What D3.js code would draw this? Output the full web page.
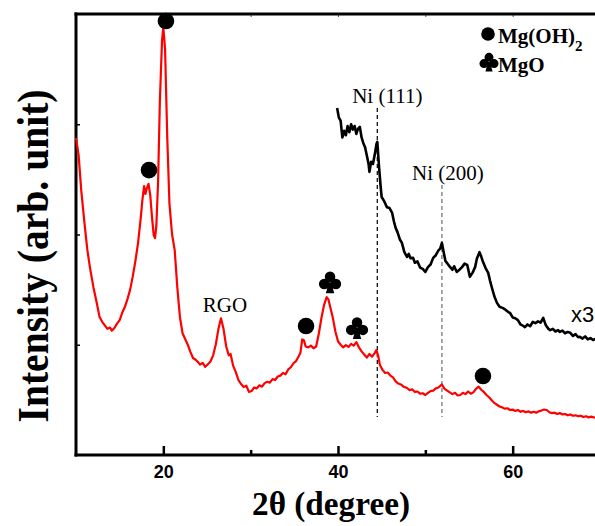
<!DOCTYPE html>
<html>
<head>
<meta charset="utf-8">
<script src="https://cdn.jsdelivr.net/npm/d3@7"></script>
<style>
  body { margin: 0; background: #fff; }
  svg { display: block; }
  .serif { font-family: "Liberation Serif", "Times New Roman", Times, serif; }
  .sans { font-family: "Liberation Sans", Arial, Helvetica, sans-serif; }
</style>
</head>
<body>
<div id="container"></div>
<script>
/**
 * CONSTANTS AND GLOBALS
 * */
const width = 595,
  height = 526,
  margin = { top: 14, bottom: 71, left: 76, right: -5 };

/**
 * DATA
 * */
// red pattern: [2theta, intensity]
const redPattern = [
  [10.0, 71.9], [10.3, 68], [10.6, 60], [11.0, 52], [11.3, 46.5], [11.6, 42.5],
  [12.0, 38], [12.3, 35.2], [12.7, 31.3], [13.0, 30.2], [13.3, 29.4], [13.6, 28.6],
  [13.9, 28.9], [14.1, 28.2], [14.4, 28.8], [14.7, 29.8], [15.0, 30.6], [15.3, 32.3],
  [15.6, 33.6], [15.9, 35.4], [16.2, 37.5], [16.5, 40.5], [16.8, 44], [17.1, 48],
  [17.4, 53.5], [17.6, 57.8], [17.8, 61], [17.95, 59.2], [18.1, 60.4], [18.3, 61.5],
  [18.5, 59], [18.7, 54], [18.9, 49.8], [19.05, 49.2], [19.2, 52], [19.4, 62],
  [19.6, 80], [19.85, 94], [20.0, 97], [20.2, 92], [20.45, 72], [20.7, 57],
  [21.0, 50], [21.3, 46.5], [21.6, 38], [21.9, 31.3], [22.2, 27.6], [22.5, 26.3],
  [22.8, 25], [23.1, 23.4], [23.4, 22], [23.7, 21.6], [24.0, 21], [24.2, 20.5],
  [24.5, 20.9], [24.8, 20], [25.1, 20.6], [25.4, 21.2], [25.7, 22.6], [26.0, 25],
  [26.3, 28.5], [26.6, 31], [26.9, 28.5], [27.2, 24.6], [27.5, 22.6], [27.7, 22.9],
  [28.0, 20.2], [28.3, 18.8], [28.6, 17], [28.9, 16.1], [29.2, 15.4], [29.5, 15.7],
  [29.8, 14.3], [30.1, 14.5], [30.4, 15.3], [30.7, 15.1], [31.0, 15.8], [31.3, 15.5],
  [31.6, 16.3], [31.9, 16.6], [32.2, 16.4], [32.5, 17.2], [32.8, 17.0], [33.1, 17.8],
  [33.4, 18.0], [33.7, 18.6], [34.0, 18.3], [34.3, 19.4], [34.6, 19.9], [34.9, 20.8],
  [35.2, 21.3], [35.5, 22.4], [35.7, 23.2], [35.9, 26.2], [36.1, 26.0], [36.3, 24.6],
  [36.6, 24.4], [36.9, 24.8], [37.2, 24.2], [37.5, 24.6], [37.8, 27.5], [38.1, 31],
  [38.4, 34], [38.7, 35.8], [38.9, 35.3], [39.1, 33.6], [39.4, 31.2], [39.7, 28],
  [40.0, 25.8], [40.3, 25.0], [40.6, 24.4], [40.9, 24.9], [41.2, 24.5], [41.5, 25.2],
  [41.8, 24.8], [42.1, 25.6], [42.4, 24.4], [42.7, 23.5], [43.0, 22.8], [43.3, 22.1],
  [43.6, 22.9], [43.9, 22.3], [44.2, 23.1], [44.4, 23.8], [44.6, 22.5], [44.8, 20.4],
  [45.1, 19.3], [45.4, 18.6], [45.7, 18.7], [46.0, 18.0], [46.3, 17.6], [46.6, 16.7],
  [46.9, 16.2], [47.2, 16.0], [47.5, 15.5], [47.9, 15.2], [48.2, 14.7], [48.5, 14.9],
  [48.8, 14.3], [49.1, 14.4], [49.4, 13.9], [49.7, 14.0], [50.0, 13.6], [50.3, 14.1],
  [50.6, 14.5], [50.9, 14.6], [51.2, 15.1], [51.5, 15.3], [51.9, 16.0], [52.2, 15.0],
  [52.5, 14.6], [52.8, 14.2], [53.1, 13.8], [53.4, 14.1], [53.7, 13.5], [54.0, 13.6],
  [54.3, 14.1], [54.6, 13.8], [54.9, 14.4], [55.2, 13.9], [55.5, 14.2], [55.8, 15.0],
  [56.1, 15.5], [56.4, 14.8], [56.7, 14.3], [57.0, 13.6], [57.3, 13.1], [57.6, 12.4],
  [57.9, 11.8], [58.2, 11.4], [58.5, 11.0], [58.8, 10.8], [59.1, 10.5], [59.4, 10.6],
  [59.7, 10.2], [60.0, 10.3], [60.3, 10.0], [60.6, 10.2], [60.9, 9.8], [61.2, 10.0],
  [61.5, 9.7], [61.8, 9.9], [62.1, 9.6], [62.4, 9.8], [62.7, 9.6], [63.0, 9.9],
  [63.3, 10.1], [63.6, 10.3], [63.9, 10.2], [64.2, 9.7], [64.5, 9.5], [64.8, 9.6],
  [65.1, 9.3], [65.4, 9.5], [65.7, 9.2], [66.0, 9.3], [66.3, 9.0], [66.6, 9.2],
  [66.9, 8.9], [67.2, 9.0], [67.5, 8.8], [67.8, 8.9], [68.1, 8.6], [68.4, 8.8],
  [68.7, 8.5], [69.0, 8.7], [69.3, 8.5], [69.6, 8.6], [70.0, 8.4]
];

// black pattern (x3 zoom of the high angle part)
const blackPattern = [
  [39.9, 78.7], [40.1, 76.5], [40.3, 75.8], [40.5, 72.0], [40.7, 73.5], [40.9, 72.5],
  [41.1, 74.6], [41.3, 73.2], [41.5, 75.0], [41.7, 73.8], [41.9, 74.6], [42.1, 72.8],
  [42.3, 74.0], [42.5, 74.4], [42.7, 72.0], [42.9, 70.7], [43.1, 69.8], [43.3, 67.9],
  [43.5, 66.0], [43.6, 64.2], [43.8, 66.5], [44.0, 66.0], [44.2, 68.0], [44.4, 70.5],
  [44.5, 71.0], [44.7, 65.3], [44.9, 60.5], [45.0, 58.5], [45.3, 57.5], [45.6, 56.2],
  [45.9, 56.0], [46.2, 54.9], [46.4, 53.0], [46.6, 51.5], [46.8, 50.6], [47.1, 48.8],
  [47.3, 48.2], [47.6, 46.0], [47.9, 44.9], [48.1, 45.6], [48.3, 44.6], [48.6, 44.7],
  [48.8, 43.6], [49.1, 43.9], [49.4, 42.5], [49.7, 42.2], [50.0, 41.5], [50.3, 42.6],
  [50.6, 43.2], [50.9, 44.7], [51.2, 45.3], [51.5, 46.4], [51.7, 46.8], [51.9, 48.1],
  [52.1, 46.0], [52.3, 44.0], [52.5, 43.5], [52.8, 42.7], [53.1, 42.0], [53.3, 42.8],
  [53.6, 41.5], [53.9, 42.0], [54.2, 42.6], [54.5, 43.4], [54.8, 43.1], [55.1, 40.4],
  [55.4, 41.3], [55.7, 42.6], [55.9, 44.5], [56.2, 46.0], [56.4, 45.0], [56.6, 43.8],
  [56.9, 42.4], [57.2, 41.3], [57.4, 39.6], [57.6, 38.1], [57.9, 36.0], [58.2, 34.5],
  [58.5, 33.6], [58.9, 33.3], [59.2, 32.9], [59.5, 32.4], [59.7, 32.2], [60.0, 31.2],
  [60.3, 31.0], [60.6, 30.6], [60.9, 29.6], [61.2, 29.3], [61.4, 29.0], [61.7, 29.6],
  [62.0, 29.2], [62.3, 30.2], [62.6, 29.9], [62.9, 30.3], [63.2, 30.0], [63.5, 31.1],
  [63.8, 29.4], [64.1, 28.6], [64.3, 28.3], [64.6, 28.6], [64.9, 28.0], [65.2, 28.3],
  [65.4, 27.9], [65.7, 28.2], [66.0, 27.6], [66.3, 27.9], [66.6, 27.7], [66.9, 27.0],
  [67.2, 27.4], [67.5, 26.7], [67.7, 26.8], [68.0, 26.4], [68.3, 26.9], [68.6, 26.2],
  [68.9, 26.5], [69.2, 26.1], [69.5, 26.3]
];

// phase markers [2theta, height]
const mgOHPeaks = [[20.3, 98.4], [18.36, 64.6], [36.34, 29.25], [56.6, 17.9]];
const mgOPeaks = [[39.09, 39.2], [42.18, 28.8]];

// Ni reference lines: position, top, bottom, label, colour
const niLines = [
  { pos: 44.5, top: 78.7, bottom: 8.6, label: "Ni (111)", labelY: 79.9, dx: 10, color: "#111" },
  { pos: 51.9, top: 61.2, bottom: 8.6, label: "Ni (200)", labelY: 62.4, dx: 6, color: "#777" },
];

const rgoLabel = { pos: 26.6, y: 32.4, text: "RGO" };

const xMajorTicks = [20, 40, 60];
const xMinorTicks = [30, 50];
const yTicks = [25, 50, 75];

/**
 * SCALES
 * */
const x = d3.scaleLinear().domain([10, 70]).range([margin.left, width - margin.right]);
const y = d3.scaleLinear().domain([0, 100]).range([height - margin.bottom, margin.top]);

const svg = d3
  .select("#container")
  .append("svg")
  .attr("width", width)
  .attr("height", height);

// axes
const bottom = height - margin.bottom;

svg.append("g")
  .attr("transform", `translate(0,${bottom})`)
  .call(d3.axisBottom(x).tickValues(xMajorTicks).tickSizeInner(-9).tickSizeOuter(0).tickPadding(10))
  .call((g) => g.select(".domain").remove())
  .call((g) => g.selectAll(".tick line").attr("stroke-width", 2.5))
  .call((g) =>
    g.selectAll(".tick text")
      .attr("class", "sans")
      .attr("font-family", null)
      .attr("font-weight", "bold")
      .attr("font-size", 18)
      .attr("fill", "#000")
  );

svg.append("g")
  .attr("transform", `translate(0,${bottom})`)
  .call(d3.axisBottom(x).tickValues(xMinorTicks).tickSizeInner(-5).tickSizeOuter(0).tickFormat(""))
  .call((g) => g.select(".domain").remove())
  .call((g) => g.selectAll(".tick line").attr("stroke-width", 2.5));

// top axis, little ticks
svg.append("g")
  .attr("transform", `translate(0,${margin.top})`)
  .call(d3.axisTop(x).tickValues(xMajorTicks.concat(xMinorTicks)).tickSizeInner(-3).tickSizeOuter(0).tickFormat(""))
  .call((g) => g.select(".domain").remove())
  .call((g) => g.selectAll(".tick line").attr("stroke", "#555").attr("stroke-width", 1));

svg.append("g")
  .attr("transform", `translate(${margin.left},0)`)
  .call(d3.axisLeft(y).tickValues(yTicks).tickSizeInner(-4).tickSizeOuter(0).tickFormat(""))
  .call((g) => g.select(".domain").remove())
  .call((g) => g.selectAll(".tick line").attr("stroke-width", 1.5));

// frame lines
const frame = [
  [[margin.left - 1.5, bottom], [width, bottom]],
  [[margin.left - 1.5, margin.top], [width, margin.top]],
  [[margin.left, margin.top - 1.5], [margin.left, bottom + 1.5]],
];
svg.selectAll("line.frame")
  .data(frame)
  .join("line")
  .attr("class", "frame")
  .attr("x1", (d) => d[0][0])
  .attr("y1", (d) => d[0][1])
  .attr("x2", (d) => d[1][0])
  .attr("y2", (d) => d[1][1])
  .attr("stroke", "#000")
  .attr("stroke-width", 3);

// Ni dashed reference lines
svg.selectAll("line.ni")
  .data(niLines)
  .join("line")
  .attr("class", "ni")
  .attr("x1", (d) => x(d.pos))
  .attr("x2", (d) => x(d.pos))
  .attr("y1", (d) => y(d.top))
  .attr("y2", (d) => y(d.bottom))
  .attr("stroke", (d) => d.color)
  .attr("stroke-width", 1.3)
  .attr("stroke-dasharray", "4,3");

svg.selectAll("text.ni")
  .data(niLines)
  .join("text")
  .attr("class", "ni serif")
  .attr("x", (d) => x(d.pos) + d.dx)
  .attr("y", (d) => y(d.labelY))
  .attr("text-anchor", "middle")
  .attr("font-size", 21)
  .text((d) => d.label);

// patterns
const line = d3.line().x((d) => x(d[0])).y((d) => y(d[1]));

svg.append("path")
  .datum(redPattern)
  .attr("d", line)
  .attr("fill", "none")
  .attr("stroke", "#ff0000")
  .attr("stroke-width", 2.2)
  .attr("stroke-linejoin", "round");

svg.append("path")
  .datum(blackPattern)
  .attr("d", line)
  .attr("fill", "none")
  .attr("stroke", "#000")
  .attr("stroke-width", 2.6)
  .attr("stroke-linejoin", "round");

// RGO label
svg.append("text")
  .attr("class", "serif")
  .attr("x", x(rgoLabel.pos) + 4)
  .attr("y", y(rgoLabel.y))
  .attr("text-anchor", "middle")
  .attr("font-size", 21)
  .text(rgoLabel.text);

// club shape, centred at 0,0 (all parts wound the same way)
function clubPath(s) {
  const r = 5 * s;
  const p = d3.path();
  [[0, -5.2], [-5.6, 1.8], [5.6, 1.8]].forEach(([cx, cy]) => {
    p.moveTo(cx * s + r, cy * s);
    p.arc(cx * s, cy * s, r, 0, Math.PI * 2);
  });
  p.moveTo(-1 * s, 0);
  p.lineTo(1 * s, 0);
  p.lineTo(4 * s, 10.5 * s);
  p.lineTo(-4 * s, 10.5 * s);
  p.closePath();
  return p.toString();
}

svg.selectAll("circle.mgoh")
  .data(mgOHPeaks)
  .join("circle")
  .attr("class", "mgoh")
  .attr("cx", (d) => x(d[0]))
  .attr("cy", (d) => y(d[1]))
  .attr("r", 8.3)
  .attr("fill", "#000");

svg.selectAll("path.mgo")
  .data(mgOPeaks)
  .join("path")
  .attr("class", "mgo")
  .attr("transform", (d) => `translate(${x(d[0])},${y(d[1])})`)
  .attr("d", clubPath(1.05))
  .attr("fill", "#000");

// x3 label
svg.append("text")
  .attr("class", "sans")
  .attr("x", 571)
  .attr("y", 322)
  .attr("font-size", 22)
  .text("x3");

// legend
const legend = svg.append("g").attr("class", "serif").attr("font-weight", "bold");
legend.append("circle").attr("cx", 488).attr("cy", 34).attr("r", 6.8).attr("fill", "#000");
const t1 = legend.append("text").attr("x", 498).attr("y", 43).attr("font-size", 21);
t1.append("tspan").text("Mg(OH)");
t1.append("tspan").attr("font-size", 15).attr("dy", 8).text("2");
legend.append("path")
  .attr("transform", "translate(489,62)")
  .attr("d", clubPath(0.9))
  .attr("fill", "#000");
legend.append("text").attr("x", 498).attr("y", 72).attr("font-size", 21).text("MgO");

// axis titles
svg.append("text")
  .attr("class", "serif")
  .attr("x", 331)
  .attr("y", 515)
  .attr("text-anchor", "middle")
  .attr("font-weight", "bold")
  .attr("font-size", 34)
  .attr("textLength", 158)
  .attr("lengthAdjust", "spacingAndGlyphs")
  .text("2θ (degree)");

svg.append("text")
  .attr("class", "serif")
  .attr("transform", "translate(48,256) rotate(-90)")
  .attr("text-anchor", "middle")
  .attr("font-weight", "bold")
  .attr("font-size", 45)
  .attr("textLength", 333)
  .attr("lengthAdjust", "spacingAndGlyphs")
  .text("Intensity (arb. unit)");
</script>
</body>
</html>
